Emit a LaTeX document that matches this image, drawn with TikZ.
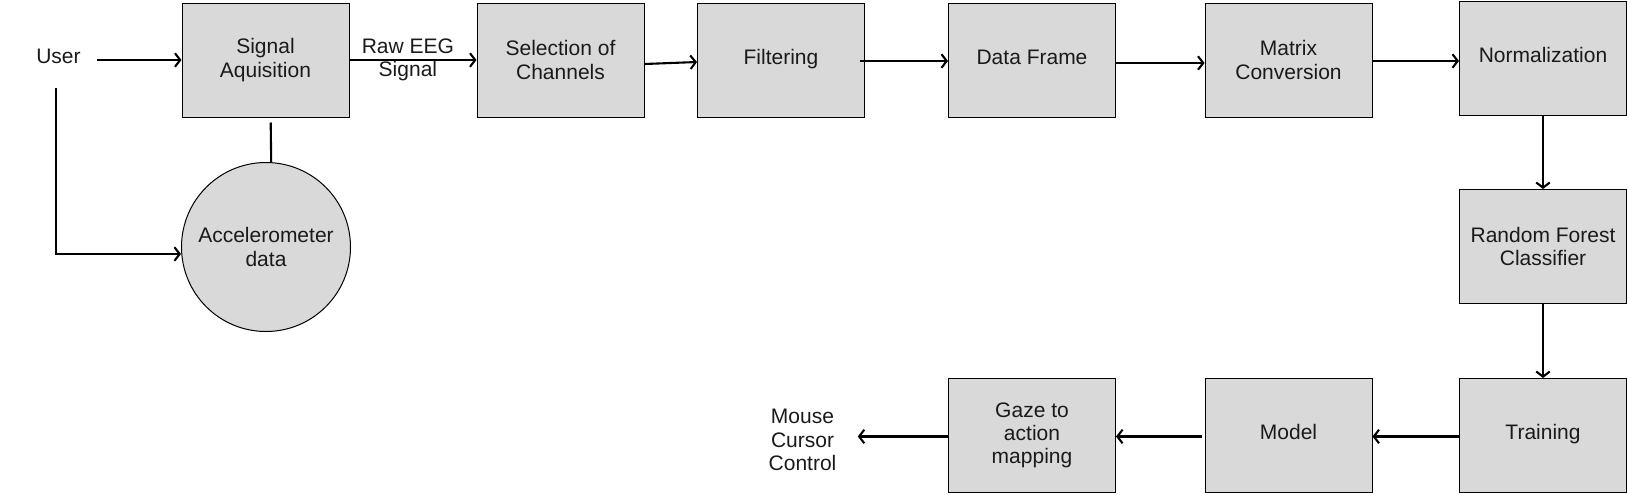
\documentclass[tikz,border=0pt]{standalone}
\usepackage{fontspec}
\setmainfont{Liberation Sans}
\usepackage{tikz}
\usetikzlibrary{arrows.meta}
\usetikzlibrary{positioning}
\definecolor{boxfill}{HTML}{D9D9D9}
\definecolor{txtgray}{HTML}{1A1A1A}
\newcommand{\blockfont}{\fontsize{10.5}{11.6}\selectfont}

\begin{document}
\begin{tikzpicture}[
x=0.5pt,y=-0.5pt,
MyBoxes/.style={draw=black,fill=boxfill,line width=0.5pt,minimum width=83.5pt,minimum height=57pt,inner sep=2pt,align=center,text=txtgray,font=\blockfont},
OneLine/.style={text height=0.72em,text depth=0.3em},
MyCircle/.style={circle,draw=black,fill=boxfill,line width=0.5pt,minimum size=84.5pt,inner sep=0pt,align=center,text=txtgray,font=\blockfont},
MyLabels/.style={align=center,text=txtgray,font=\blockfont,inner sep=1pt},
Flows/.style={-{Straight Barb[length=2.6pt,width=6.8pt]},line width=1.05pt}
]
\useasboundingbox (0,0) rectangle (1627,494);

% rows and columns of the flow chart
\pgfmathparse{60}		\let\Ytop\pgfmathresult
\pgfmathparse{246.5}		\let\Ymid\pgfmathresult
\pgfmathparse{435.5}		\let\Ybot\pgfmathresult
\pgfmathparse{1543}		\let\Xlast\pgfmathresult

\coordinate (S) at (265.5,\Ytop);
\coordinate (A) at (266,247);

\node[MyLabels] (user) at (58.5,56) {User};
\node[MyBoxes] (sig) at (S) {Signal\\Aquisition};
\node[MyCircle] (acc) at (A) {Accelerometer\\data};
\node[MyBoxes] (sel) at (560.5,\Ytop) {Selection of\\Channels};
\node[MyBoxes,OneLine] (filt) at (781,\Ytop) {Filtering};
\node[MyBoxes,OneLine] (frame) at (1032,\Ytop) {Data Frame};
\node[MyBoxes] (mat) at (1288.5,\Ytop) {Matrix\\Conversion};
\node[MyBoxes,OneLine] (norm) at (\Xlast,58) {Normalization};
\node[MyBoxes] (rf) at (\Xlast,\Ymid) {Random Forest\\Classifier};
\node[MyBoxes,OneLine] (train) at (\Xlast,\Ybot) {Training};
\node[MyBoxes,OneLine] (model) at (1288.5,\Ybot) {Model};
\node[MyBoxes] (gaze) at (1032,\Ybot) {Gaze to\\action\\mapping};
\node[MyLabels] (mouse) at (802.5,440) {Mouse\\Cursor\\Control};

\draw[Flows] ([xshift=7pt,yshift=-2pt]user.east) -- (sig.west);
\draw[Flows] ([xshift=-1.25pt,yshift=-11pt]user.south) |- ([yshift=-3.5pt]acc.west);
\draw[line width=1.05pt] ([xshift=2.6pt,yshift=-2.5pt]sig.south) -- ([xshift=2.6pt]acc.north);
\draw[Flows] (sig.east) -- (sel.west) node[MyLabels,pos=0.46]{Raw EEG\\Signal};
\draw[Flows] ([yshift=-2pt]sel.east) -- ([yshift=-1pt]filt.west);
\draw[Flows] ([xshift=-2.5pt,yshift=-0.5pt]filt.east) -- ([yshift=-0.5pt]frame.west);
\draw[Flows] ([yshift=-1.5pt]frame.east) -- ([yshift=-1.5pt]mat.west);
\draw[Flows] ([yshift=-0.5pt]mat.east) -- ([yshift=-0.5pt]norm.west |- mat.east);
\draw[Flows] (norm.south) -- (rf.north);
\draw[Flows] (rf.south) -- (train.north);
\draw[Flows] ([yshift=-0.5pt]train.west) -- ([yshift=-0.5pt]model.east);
\draw[Flows] ([xshift=-1.5pt,yshift=-0.5pt]model.west) -- ([yshift=-0.5pt]gaze.east);
\draw[Flows] ([yshift=-0.5pt]gaze.west) -- ([xshift=9.5pt,yshift=-0.5pt]gaze.west -| mouse.east);

\end{tikzpicture}
\end{document}
